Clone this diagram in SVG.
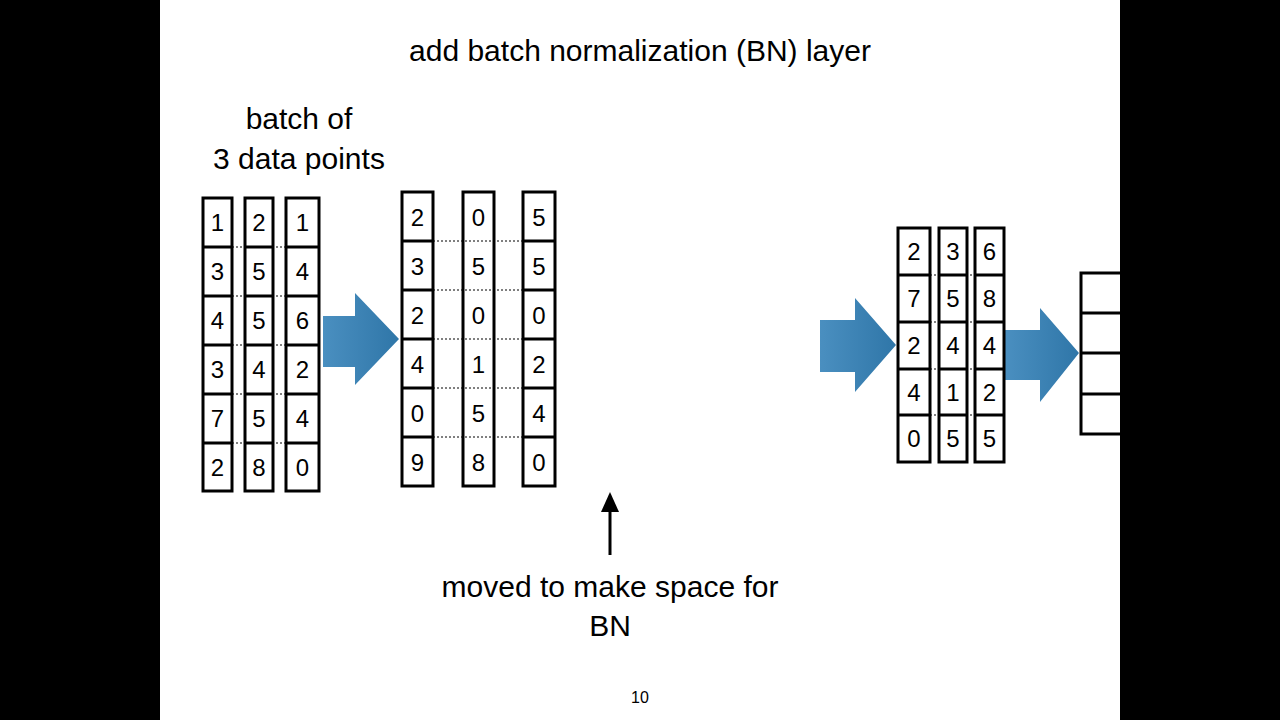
<svg xmlns="http://www.w3.org/2000/svg" width="1280" height="720" viewBox="0 0 1280 720">
<style>
.c{fill:#fff;stroke:#000;stroke-width:3}
.d{stroke:#000;stroke-width:1;stroke-dasharray:2 2}
.n{font-family:"Liberation Sans",Arial,sans-serif;font-size:24px;text-anchor:middle}
.t{font-family:"Liberation Sans",Arial,sans-serif;font-size:30px;text-anchor:middle}
.a{fill:url(#g)}
</style>
<defs>
<linearGradient id="g" x1="0" y1="0" x2="1" y2="0"><stop offset="0" stop-color="#4a8fc0"/><stop offset="1" stop-color="#2f76a8"/></linearGradient>
<marker id="m" markerWidth="8" markerHeight="8" refX="4" refY="8" orient="auto" markerUnits="userSpaceOnUse"><path d="M0,0"/></marker>
</defs>
<rect width="1280" height="720" fill="#000"/>
<rect x="160" width="960" height="720" fill="#fff"/>
<text class="t" x="640" y="61">add batch normalization (BN) layer</text>
<text class="t" x="299" y="129">batch of</text>
<text class="t" x="299" y="169">3 data points</text>
<text class="t" x="610" y="597">moved to make space for</text>
<text class="t" x="610" y="636">BN</text>
<text x="640" y="703" font-family="Liberation Sans,Arial,sans-serif" font-size="16" text-anchor="middle">10</text>
<g id="connectors">
<path class="a" d="M323,316H355V293L399,339L355,385V367H323Z"/>
<path class="a" d="M820,320H855V298L896,345L855,392V372H820Z"/>
<path class="a" d="M1005,330H1040V308L1079,353L1040,402V380H1005Z"/>
<line x1="610" y1="555" x2="610" y2="508" stroke="#000" stroke-width="3"/>
<path d="M601,512L610,492L619,512Z"/>
</g>
<g id="groupA">
<g class="d"><line x1="232" y1="247" x2="286" y2="247"/><line x1="232" y1="296" x2="286" y2="296"/><line x1="232" y1="345" x2="286" y2="345"/><line x1="232" y1="394" x2="286" y2="394"/><line x1="232" y1="443" x2="286" y2="443"/></g>
<g fill="none" stroke="#000" stroke-width="3">
<rect x="203" y="198" width="29" height="293"/><rect x="245" y="198" width="28" height="293"/><rect x="286" y="198" width="33" height="293"/>
<path d="M203,247H232M203,296H232M203,345H232M203,394H232M203,443H232M245,247H273M245,296H273M245,345H273M245,394H273M245,443H273M286,247H319M286,296H319M286,345H319M286,394H319M286,443H319"/>
</g>
<g class="n">
<text x="217.5" y="231">1</text><text x="217.5" y="280">3</text><text x="217.5" y="329">4</text><text x="217.5" y="378">3</text><text x="217.5" y="427">7</text><text x="217.5" y="476">2</text>
<text x="259" y="231">2</text><text x="259" y="280">5</text><text x="259" y="329">5</text><text x="259" y="378">4</text><text x="259" y="427">5</text><text x="259" y="476">8</text>
<text x="302.5" y="231">1</text><text x="302.5" y="280">4</text><text x="302.5" y="329">6</text><text x="302.5" y="378">2</text><text x="302.5" y="427">4</text><text x="302.5" y="476">0</text>
</g>
</g>
<g id="groupB">
<g class="d"><line x1="433" y1="241" x2="523" y2="241"/><line x1="433" y1="290" x2="523" y2="290"/><line x1="433" y1="339" x2="523" y2="339"/><line x1="433" y1="388" x2="523" y2="388"/><line x1="433" y1="437" x2="523" y2="437"/></g>
<g fill="none" stroke="#000" stroke-width="3">
<rect x="402" y="192" width="31" height="294"/><rect x="463" y="192" width="31" height="294"/><rect x="523" y="192" width="32" height="294"/>
<path d="M402,241H433M402,290H433M402,339H433M402,388H433M402,437H433M523,241H555M523,290H555M523,339H555M523,388H555M523,437H555"/>
</g>
<g class="n">
<text x="417.5" y="226">2</text><text x="417.5" y="275">3</text><text x="417.5" y="324">2</text><text x="417.5" y="373">4</text><text x="417.5" y="422">0</text><text x="417.5" y="471">9</text>
<text x="478.5" y="226">0</text><text x="478.5" y="275">5</text><text x="478.5" y="324">0</text><text x="478.5" y="373">1</text><text x="478.5" y="422">5</text><text x="478.5" y="471">8</text>
<text x="539" y="226">5</text><text x="539" y="275">5</text><text x="539" y="324">0</text><text x="539" y="373">2</text><text x="539" y="422">4</text><text x="539" y="471">0</text>
</g>
</g>
<g id="groupC">
<g class="d"><line x1="930" y1="275" x2="975" y2="275"/><line x1="930" y1="322" x2="975" y2="322"/><line x1="930" y1="369" x2="975" y2="369"/><line x1="930" y1="415" x2="975" y2="415"/></g>
<g fill="none" stroke="#000" stroke-width="3">
<rect x="898" y="228" width="32" height="234"/><rect x="939" y="228" width="28" height="234"/><rect x="975" y="228" width="29" height="234"/>
<path d="M898,275H930M898,322H930M898,369H930M898,415H930M939,275H967M939,322H967M939,369H967M939,415H967M975,275H1004M975,322H1004M975,369H1004M975,415H1004"/>
</g>
<g class="n">
<text x="914" y="260">2</text><text x="914" y="307">7</text><text x="914" y="354">2</text><text x="914" y="401">4</text><text x="914" y="447">0</text>
<text x="953" y="260">3</text><text x="953" y="307">5</text><text x="953" y="354">4</text><text x="953" y="401">1</text><text x="953" y="447">5</text>
<text x="989.5" y="260">6</text><text x="989.5" y="307">8</text><text x="989.5" y="354">4</text><text x="989.5" y="401">2</text><text x="989.5" y="447">5</text>
</g>
</g>
<g id="groupD" fill="none" stroke="#000" stroke-width="3">
<rect x="1081" y="273" width="50" height="161"/>
<path d="M1081,313H1120M1081,353H1120M1081,394H1120"/>
</g>
<rect x="1120" width="160" height="720" fill="#000"/>
</svg>
